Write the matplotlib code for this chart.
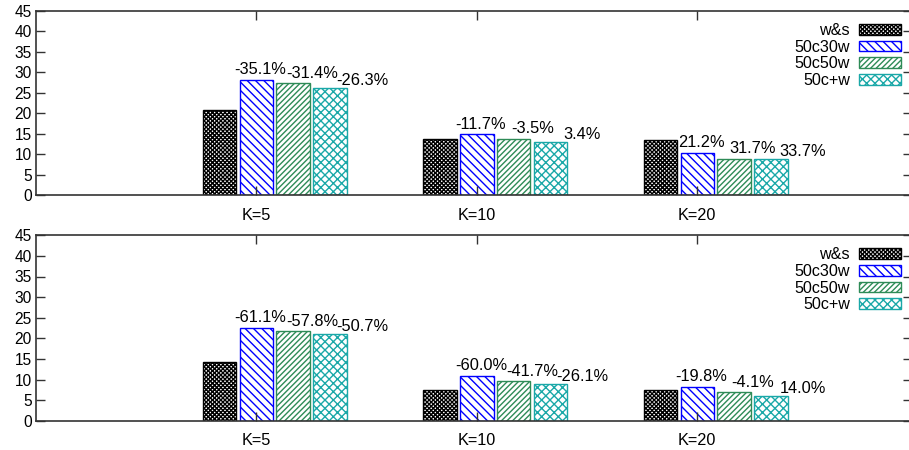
import numpy as np
import matplotlib.pyplot as plt

plt.rcParams['font.family'] = ['Liberation Sans', 'DejaVu Sans']

groups = ['K=5', 'K=10', 'K=20']
series = ['w&s', '50c30w', '50c50w', '50c+w']

# top panel
top_ws = [20.8, 13.6, 13.5]
top_30w = [28.1, 14.8, 10.3]
top_50w = [27.3, 13.8, 8.9]
top_cw = [26.2, 12.9, 8.7]
top_pct = [['-35.1%', '-11.7%', '21.2%'],
           ['-31.4%', '-3.5%', '31.7%'],
           ['-26.3%', '3.4%', '33.7%']]

# bottom panel
bot_ws = [14.3, 7.45, 7.45]
bot_30w = [22.4, 10.85, 8.1]
bot_50w = [21.8, 9.7, 7.0]
bot_cw = [21.1, 8.8, 6.0]
bot_pct = [['-61.1%', '-60.0%', '-19.8%'],
           ['-57.8%', '-41.7%', '-4.1%'],
           ['-50.7%', '-26.1%', '14.0%']]

colors = ['black', '#0000ff', '#2e8b57', '#1aa8a8']
hatches = ['xxxxxxxx', '\\\\\\\\', '//////', 'xxxx']

pitch = 1 / 6.
width = 0.152
lab_dx = [4 / 220., 19 / 220., 32 / 220.]
lab_dy = [7.5, 7, 5.5]

fig = plt.figure(figsize=(9.09, 4.5), dpi=100)
W, H = 909., 450.
ax1 = fig.add_axes([36 / W, 1 - 195 / H, (912 - 36) / W, (195 - 11) / H])
ax2 = fig.add_axes([36 / W, 1 - 420.7 / H, (912 - 36) / W, (420.7 - 235.3) / H])

x = np.arange(len(groups))

for ax, data, pct in [(ax1, [top_ws, top_30w, top_50w, top_cw], top_pct),
                      (ax2, [bot_ws, bot_30w, bot_50w, bot_cw], bot_pct)]:
    for j in range(4):
        xs = x + (j - 1) * pitch
        ax.bar(xs, data[j], width, facecolor='white', edgecolor=colors[j],
               hatch=hatches[j], linewidth=1.0, label=series[j])
        if j > 0:
            for i in range(len(groups)):
                ax.annotate(pct[j - 1][i], (xs[i] + lab_dx[j - 1], data[j][i]),
                            xytext=(0, lab_dy[j - 1]), textcoords='offset points',
                            ha='center', va='center', fontsize=11.8)
    ax.set_xlim(-1, (912 - 257.7) / 220.)
    ax.set_ylim(0, 45)
    ax.set_yticks(range(0, 46, 5))
    ax.set_xticks(x)
    ax.set_xticklabels(groups)
    ax.tick_params(direction='in', length=6.5, width=1, labelsize=11.2,
                   top=True, right=True, colors='#333333', labelcolor='black')
    ax.tick_params(axis='y', pad=3)
    ax.tick_params(axis='x', pad=9, labelsize=11.7)
    for s in ax.spines.values():
        s.set_color('#333333')
        s.set_linewidth(1.2)
    ax.legend(loc='upper right', bbox_to_anchor=(0.987, 0.935),
              frameon=False, markerfirst=False, fontsize=11.6,
              handlelength=2.6, handleheight=0.65, handletextpad=0.55,
              labelspacing=0.1, borderaxespad=0, borderpad=0)

fig.savefig('out.png', dpi=100)
